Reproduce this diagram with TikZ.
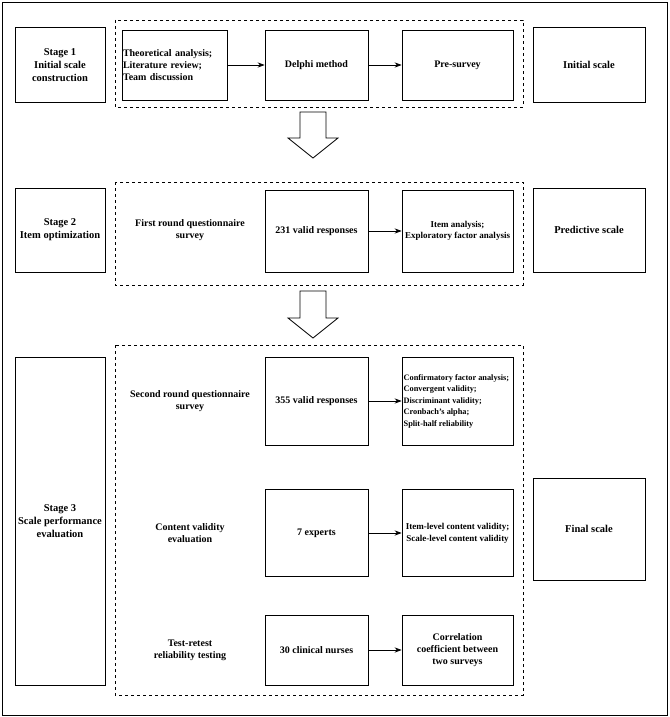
\documentclass[tikz,border=0pt]{standalone}
\usepackage{fontspec}
\setmainfont{Liberation Serif}
\usetikzlibrary{arrows.meta}
\tikzset{
  box/.style={draw, thick, align=center, font=\fontsize{10}{12}\selectfont\bfseries, inner sep=1pt},
  txt/.style={align=center, font=\fontsize{10}{12}\selectfont\bfseries},
  stage/.style={box, font=\fontsize{10.5}{13}\selectfont\bfseries},
  flow/.style={-{Stealth[length=7pt]}, thick},
  hollow/.style={draw, thick, fill=white}
}
\newcommand{\hollowdown}[2]{% top y, length
  \draw[hollow] (300,#1) -- (326,#1) -- (326,#1+#2-20) -- (338,#1+#2-20) -- (313,#1+#2) -- (288,#1+#2-20) -- (300,#1+#2-20) -- cycle;}
\begin{document}
\begin{tikzpicture}[x=1pt,y=-1pt]
\useasboundingbox (0,0) rectangle (669,717);
\draw[thick] (2,2) rectangle (667,715);
% dashed frames
\draw[thick, dashed] (115,20) rectangle (523,107);
\draw[thick, dashed] (115,182) rectangle (523,285);
\draw[thick, dashed] (115,345) rectangle (523,695);
% stage 1
\node[stage, minimum width=90pt, minimum height=75pt] (s1) at (60,65) {Stage 1\\Initial scale\\construction};
\node[box, minimum width=105pt, minimum height=70pt, align=left, text width=103pt] (theory) at (174.5,65) {Theoretical analysis;\\Literature review;\\Team discussion};
\node[box, minimum width=103pt, minimum height=70pt] (delphi) at (316.5,65) {Delphi method};
\node[box, minimum width=111pt, minimum height=70pt] (pre) at (457.5,65) {Pre-survey};
\node[stage, minimum width=112pt, minimum height=75pt] (init) at (589,65) {Initial scale};
\draw[flow] (theory) -- (delphi);
\draw[flow] (delphi) -- (pre);
\hollowdown{112}{46}
% stage 2
\node[stage, minimum width=90pt, minimum height=84pt] (s2) at (60,230) {Stage 2\\Item optimization};
\node[txt] (first) at (190,230) {First round questionnaire\\survey};
\node[box, minimum width=103pt, minimum height=82pt] (r231) at (316.5,231) {231 valid responses};
\node[box, minimum width=111pt, minimum height=82pt, font=\fontsize{9}{11.5}\selectfont\bfseries] (item) at (457.5,231) {Item analysis;\\Exploratory factor analysis};
\node[stage, minimum width=112pt, minimum height=84pt] (pred) at (589,230) {Predictive scale};
\draw[flow] (r231) -- (item);
\hollowdown{291}{47}
% stage 3
\node[stage, minimum width=90pt, minimum height=328pt] (s3) at (60,521) {Stage 3\\Scale performance\\evaluation};
\node[txt] (second) at (190,401) {Second round questionnaire\\survey};
\node[box, minimum width=103pt, minimum height=88pt] (r355) at (316.5,401) {355 valid responses};
\node[box, minimum width=111pt, minimum height=88pt, align=left, font=\fontsize{8.3}{11.5}\selectfont\bfseries] (cfa) at (457.5,401) {Confirmatory factor analysis;\\Convergent validity;\\Discriminant validity;\\Cronbach's alpha;\\Split-half reliability\hspace*{38pt}};
\node[txt] (content) at (190,533) {Content validity\\evaluation};
\node[box, minimum width=103pt, minimum height=87pt] (experts) at (316.5,533) {7 experts};
\node[box, minimum width=111pt, minimum height=87pt, font=\fontsize{9}{12}\selectfont\bfseries] (ilcv) at (457.5,533) {Item-level content validity;\\Scale-level content validity};
\node[txt] (retest) at (190,650) {Test-retest\\reliability testing};
\node[box, minimum width=103pt, minimum height=70pt] (nurses) at (316.5,650) {30 clinical nurses};
\node[box, minimum width=111pt, minimum height=70pt] (corr) at (457.5,650) {Correlation\\coefficient between\\two surveys};
\node[stage, minimum width=112pt, minimum height=102pt] (final) at (589,529) {Final scale};
\draw[flow] (r355) -- (cfa);
\draw[flow] (experts) -- (ilcv);
\draw[flow] (nurses) -- (corr);
\end{tikzpicture}
\end{document}
